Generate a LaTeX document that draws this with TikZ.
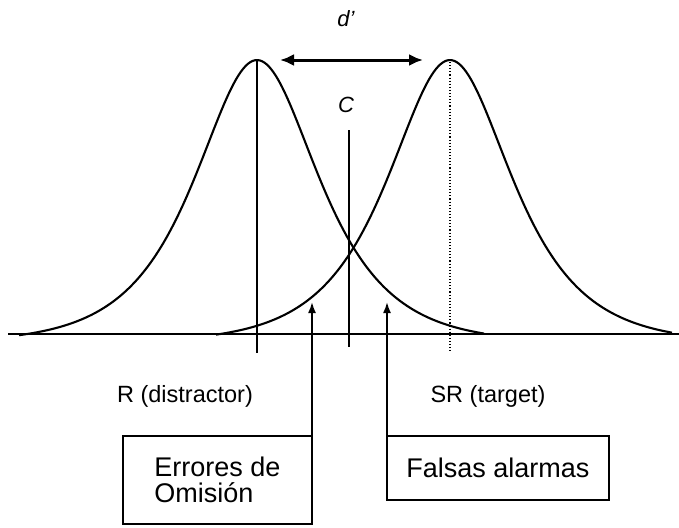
\documentclass[tikz,border=0pt]{standalone}
\usepackage{fontspec}
\setmainfont{Liberation Sans}
\usetikzlibrary{arrows.meta}
\tikzset{
  curve/.style={line width=2.1pt},
  axis/.style={line width=2pt},
  thinline/.style={line width=1.1pt},
  arr/.style={line width=1.8pt,-{Latex[length=11pt,width=8pt]}},
  darr/.style={line width=3pt,{Latex[length=14pt,width=12pt]}-{Latex[length=14pt,width=12pt]}},
  lbl/.style={inner sep=0pt,font=\fontsize{23.5}{25}\selectfont},
  boxnode/.style={draw,line width=1.8pt,outer sep=0pt,inner sep=0pt,align=left,font=\fontsize{27}{26}\selectfont},
}
\begin{document}
\begin{tikzpicture}[x=1pt,y=-1pt]
\useasboundingbox (0,0) rectangle (679,527);
% baseline
\coordinate (bl) at (8,334);
\coordinate (br) at (679,334);
\draw[axis] (bl) -- (br);
% curves
\draw[curve] plot[domain=-238:227,samples=200,smooth] ({257+\x},{334-274*(2/(exp(\x/55)+exp(-\x/55))-0.0306)/0.9694});
\draw[curve] plot[domain=-234:222,samples=200,smooth] ({450+\x},{334-274*(2/(exp(\x/55)+exp(-\x/55))-0.0306)/0.9694});
% vertical lines
\coordinate (pl) at (257,60);
\coordinate (plb) at (257,353);
\draw[thinline] (pl) -- (plb);
\coordinate (pr) at (450,62);
\coordinate (prb) at (450,352);
\draw[thinline,dotted] (pr) -- (prb);
\coordinate (ct) at (349,130);
\coordinate (cb) at (349,347);
\draw[line width=2pt] (ct) -- (cb);
% d' arrow
\coordinate (da) at (280,60);
\coordinate (db) at (423,60);
\draw[darr] (da) -- (db);
\node[lbl,font=\fontsize{22}{24}\selectfont\itshape] (dlab) at (346,19) {d'};
\node[lbl,font=\fontsize{22}{24}\selectfont\itshape] (clab) at (346,105) {C};
% labels
\node[lbl] (rl) at (185,396) {R (distractor)};
\node[lbl] (sr) at (488,396) {SR (target)};
% boxes
\node[boxnode,minimum width=189pt,minimum height=88pt] (boxL) at (217.5,480) {Errores de\\Omisión};
\node[boxnode,minimum width=222pt,minimum height=64pt] (boxR) at (498,468) {Falsas alarmas};
\coordinate (tipL) at (312,302);
\coordinate (tipR) at (387,302);
\draw[arr] (boxL.north east) -- (tipL);
\draw[arr] (boxR.north west) -- (tipR);
\end{tikzpicture}
\end{document}
